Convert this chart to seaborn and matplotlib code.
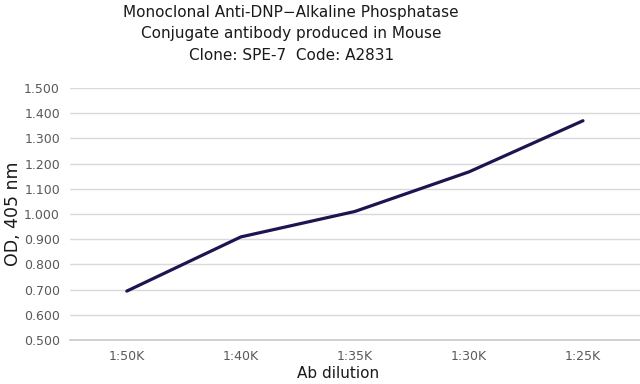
import pandas as pd
import matplotlib
matplotlib.use("Agg")
import matplotlib.pyplot as plt
import seaborn as sns

# data
dilutions = ["1:50K", "1:40K", "1:35K", "1:30K", "1:25K"]
od_values = [0.694, 0.909, 1.010, 1.167, 1.370]

df = pd.DataFrame({"dilution": dilutions, "od": od_values})

sns.set_theme(style="whitegrid")
plt.rcParams["font.family"] = ["DejaVu Sans"]

fig = plt.figure(figsize=(6.4, 3.84), dpi=100)
ax = fig.add_axes([0.109, 0.1146, 0.891, 0.6563])

sns.lineplot(data=df, x="dilution", y="od", sort=False, color="#1c1550",
             linewidth=2.3, ax=ax)

ax.set_xlim(-0.5, 4.5)
ax.set_ylim(0.5, 1.5)
ax.set_yticks([0.5 + 0.1 * i for i in range(11)])
ax.yaxis.set_major_formatter(matplotlib.ticker.FormatStrFormatter("%.3f"))

ax.grid(axis="y", color="#d9d9d9", linewidth=1)
ax.grid(axis="x", visible=False)
for s in ["top", "right", "left"]:
    ax.spines[s].set_visible(False)
ax.spines["bottom"].set_color("#c8c8c8")
ax.spines["bottom"].set_linewidth(1.2)

ax.tick_params(axis="y", labelsize=9, colors="#595959", length=0, pad=7)
ax.tick_params(axis="x", labelsize=9, colors="#595959", length=0, pad=7)
ax.set_xlabel("Ab dilution", fontsize=11, color="#1a1a1a")
ax.set_ylabel("OD, 405 nm", fontsize=12.5, color="#1a1a1a")
ax.xaxis.set_label_coords(0.47, -0.105)
ax.yaxis.set_label_coords(-0.083, 0.5)

fig.text(0.455, 0.988,
         "Monoclonal Anti-DNP\u2212Alkaline Phosphatase\n"
         "Conjugate antibody produced in Mouse\n"
         "Clone: SPE-7  Code: A2831",
         ha="center", va="top", fontsize=11, color="#1a1a1a", linespacing=1.55)

fig.savefig("out.png", dpi=100)
